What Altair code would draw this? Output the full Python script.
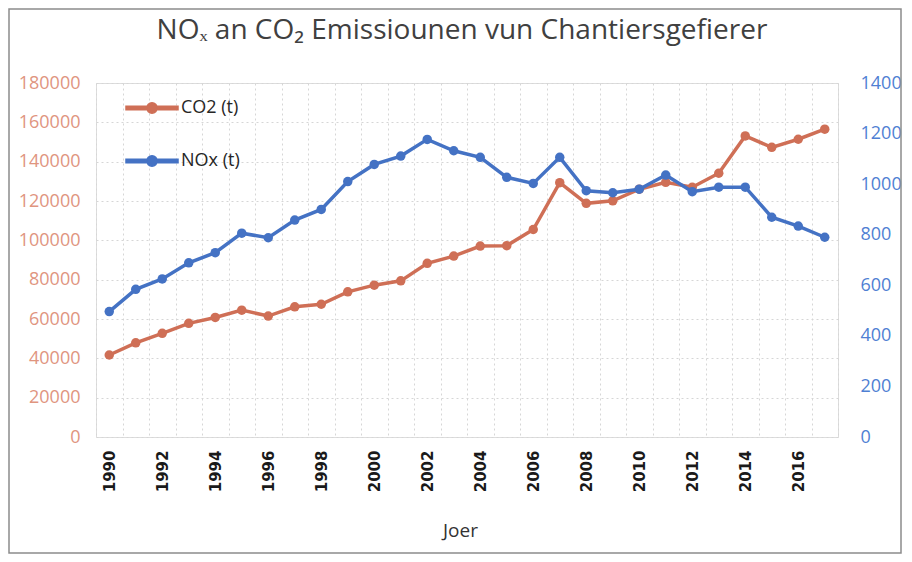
import altair as alt
import pandas as pd

years = list(range(1990, 2018))
co2 = [41700, 47900, 52700, 57800, 60800, 64500, 61500, 66200, 67500, 73800,
       77200, 79400, 88300, 92000, 97100, 97300, 105500, 129300, 118800, 120100,
       126000, 129500, 127000, 134100, 153100, 147300, 151400, 156500]
nox = [496, 584, 625, 689, 729, 806, 788, 858, 900, 1010,
       1078, 1111, 1177, 1132, 1106, 1027, 1003, 1106, 974, 966,
       980, 1036, 970, 988, 988, 869, 834, 790]
series_names = ["CO2 (t)", "NOx (t)"]
series_colors = ["#CF6F56", "#4472C4"]

df = pd.DataFrame({"Year": years, "CO2": co2, "NOx": nox})

W, H = 742, 354
FONT = "Open Sans"

legend_path = ("M-1,-0.07H1V0.07H-1Z "
               "M0.2,0A0.2,0.2,0,1,1,-0.2,0A0.2,0.2,0,1,1,0.2,0Z")

color_scale = alt.Scale(domain=series_names, range=series_colors)
legend = alt.Legend(orient="none", legendX=29, legendY=-2, title=None,
                    symbolType=legend_path, symbolSize=2704,
                    labelFont=FONT, labelFontSize=18, labelColor="#262626",
                    labelOffset=2, rowPadding=17, padding=0)

x_enc = alt.X("Year:O",
              scale=alt.Scale(type="band", paddingInner=0, paddingOuter=0),
              axis=alt.Axis(title="Joer", labelAngle=270, tickBand="extent",
                            labelExpr="datum.value % 2 == 0 ? datum.label : ''",
                            labelFont="DejaVu Sans", labelFontSize=15,
                            labelFontWeight="bold",
                            labelColor="#1a1a1a", labelPadding=13,
                            ticks=False, domain=False, grid=True,
                            gridColor="#d6d6d6", gridDash=[2, 3],
                            titleFont=FONT, titleFontSize=19,
                            titleFontWeight="normal", titleColor="#333333",
                            titlePadding=30, titleX=364))

base = alt.Chart(df)

co2_layer = base.transform_calculate(series="'CO2 (t)'").mark_line(
    strokeWidth=3.5, point=alt.OverlayMarkDef(filled=True, size=90)
).encode(
    x=x_enc,
    y=alt.Y("CO2:Q", scale=alt.Scale(domain=[0, 180000]),
            axis=alt.Axis(title=None, values=list(range(0, 180001, 20000)),
                          orient="left", format="d", ticks=False, domain=False,
                          grid=True, gridColor="#d6d6d6", gridDash=[2, 3],
                          labelFont=FONT, labelFontSize=18,
                          labelColor="#E0957F", labelPadding=16)),
    color=alt.Color("series:N", scale=color_scale, legend=legend),
)

nox_layer = base.transform_calculate(series="'NOx (t)'").mark_line(
    strokeWidth=3.5, point=alt.OverlayMarkDef(filled=True, size=90)
).encode(
    x=x_enc,
    y=alt.Y("NOx:Q", scale=alt.Scale(domain=[0, 1400]),
            axis=alt.Axis(title=None, values=list(range(0, 1401, 200)),
                          orient="right", format="d", ticks=False,
                          domain=False, grid=False,
                          labelFont=FONT, labelFontSize=18,
                          labelColor="#4F7FD3", labelPadding=22)),
    color=alt.Color("series:N", scale=color_scale, legend=legend),
)

frame = alt.Chart(alt.Data(values=[{}])).mark_rect(
    fill="transparent", stroke="#8c8c8c", strokeWidth=1.5
).encode(
    x=alt.value(-87), x2=alt.value(W + 63),
    y=alt.value(-74), y2=alt.value(H + 116),
)

chart = alt.layer(frame, co2_layer, nox_layer).resolve_scale(
    y="independent"
).properties(
    width=W, height=H,
    autosize=alt.AutoSizeParams(type="none"),
    padding={"left": 88, "top": 75, "right": 66, "bottom": 117},
    title=alt.Title("NOₓ an CO₂ Emissiounen vun Chantiersgefierer",
                    font=FONT, fontSize=28, fontWeight="normal",
                    color="#404040", baseline="alphabetic", offset=-59,
                    anchor="middle", dx=-5),
).configure_view(stroke=None).configure(background="white")

chart.save("out.html", embed_options={"renderer": "svg", "actions": False})
